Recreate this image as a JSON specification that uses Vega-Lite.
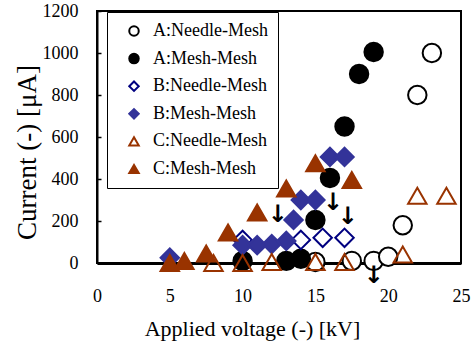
{
  "$schema": "https://vega.github.io/schema/vega-lite/v6.json",
  "width": 364,
  "height": 252,
  "autosize": {"type": "none"},
  "padding": {"left": 97, "top": 11, "right": 13, "bottom": 80},
  "background": "white",
  "config": {
    "view": {"stroke": "black", "strokeWidth": 2},
    "font": "Liberation Serif",
    "axis": {"labelFont": "Liberation Serif", "titleFont": "Liberation Serif", "labelColor": "black", "titleColor": "black", "titleFontWeight": "normal", "grid": false, "domainColor": "black", "tickColor": "black"}
  },
  "datasets": {
    "pts": [
      {"s": "A:Needle-Mesh", "v": 15, "i": 5},
      {"s": "A:Needle-Mesh", "v": 17.5, "i": 10},
      {"s": "A:Needle-Mesh", "v": 19, "i": 10},
      {"s": "A:Needle-Mesh", "v": 20, "i": 30},
      {"s": "A:Needle-Mesh", "v": 21, "i": 180},
      {"s": "A:Needle-Mesh", "v": 22, "i": 800},
      {"s": "A:Needle-Mesh", "v": 23, "i": 1000},
      {"s": "A:Mesh-Mesh", "v": 10, "i": 10},
      {"s": "A:Mesh-Mesh", "v": 13, "i": 10},
      {"s": "A:Mesh-Mesh", "v": 14, "i": 20},
      {"s": "A:Mesh-Mesh", "v": 15, "i": 205},
      {"s": "A:Mesh-Mesh", "v": 16, "i": 405},
      {"s": "A:Mesh-Mesh", "v": 17, "i": 650},
      {"s": "A:Mesh-Mesh", "v": 18, "i": 900},
      {"s": "A:Mesh-Mesh", "v": 19, "i": 1005},
      {"s": "B:Needle-Mesh", "v": 10, "i": 110},
      {"s": "B:Needle-Mesh", "v": 14, "i": 110},
      {"s": "B:Needle-Mesh", "v": 15.5, "i": 120},
      {"s": "B:Needle-Mesh", "v": 17, "i": 120},
      {"s": "B:Mesh-Mesh", "v": 5, "i": 25},
      {"s": "B:Mesh-Mesh", "v": 10, "i": 85},
      {"s": "B:Mesh-Mesh", "v": 11, "i": 85},
      {"s": "B:Mesh-Mesh", "v": 12, "i": 90},
      {"s": "B:Mesh-Mesh", "v": 13, "i": 105},
      {"s": "B:Mesh-Mesh", "v": 13.5, "i": 205},
      {"s": "B:Mesh-Mesh", "v": 14, "i": 300},
      {"s": "B:Mesh-Mesh", "v": 15, "i": 300},
      {"s": "B:Mesh-Mesh", "v": 16, "i": 505},
      {"s": "B:Mesh-Mesh", "v": 17, "i": 505},
      {"s": "C:Needle-Mesh", "v": 8, "i": 0},
      {"s": "C:Needle-Mesh", "v": 10, "i": 0},
      {"s": "C:Needle-Mesh", "v": 12, "i": 5},
      {"s": "C:Needle-Mesh", "v": 15, "i": 5},
      {"s": "C:Needle-Mesh", "v": 17, "i": 5},
      {"s": "C:Needle-Mesh", "v": 21, "i": 40},
      {"s": "C:Needle-Mesh", "v": 22, "i": 320},
      {"s": "C:Needle-Mesh", "v": 24, "i": 320},
      {"s": "C:Mesh-Mesh", "v": 5, "i": 0},
      {"s": "C:Mesh-Mesh", "v": 6, "i": 10},
      {"s": "C:Mesh-Mesh", "v": 7.5, "i": 45},
      {"s": "C:Mesh-Mesh", "v": 9, "i": 145},
      {"s": "C:Mesh-Mesh", "v": 11, "i": 240},
      {"s": "C:Mesh-Mesh", "v": 13, "i": 355},
      {"s": "C:Mesh-Mesh", "v": 15, "i": 475},
      {"s": "C:Mesh-Mesh", "v": 17.5, "i": 395}
    ],
    "arrows": [
      {"v": 12.4, "i": 230, "t": "↓"},
      {"v": 16.2, "i": 285, "t": "↓"},
      {"v": 17.2, "i": 220, "t": "↓"},
      {"v": 19.0, "i": -60, "t": "↓"}
    ]
  },
  "layer": [
    {
      "data": {"name": "pts"},
      "mark": {"type": "point", "filled": false, "strokeWidth": 2, "opacity": 1, "clip": false, "size": 340},
      "encoding": {
        "x": {"field": "v", "type": "quantitative", "scale": {"domain": [0, 25], "nice": false},
          "axis": {"values": [0, 5, 10, 15, 20, 25], "title": "Applied voltage (-) [kV]", "labelFontSize": 18, "titleFontSize": 22, "labelPadding": 24, "ticks": false, "domainWidth": 3, "titleX": 155, "titleY": 72, "titleBaseline": "alphabetic", "titleAnchor": null, "labelFlush": false}},
        "y": {"field": "i", "type": "quantitative", "scale": {"domain": [0, 1200], "nice": false},
          "axis": {"values": [0, 200, 400, 600, 800, 1000, 1200], "format": "d", "title": "Current (-) [μA]", "labelFontSize": 18, "titleFontSize": 27, "labelPadding": 23, "ticks": true, "tickSize": -4, "tickWidth": 1.5, "domainWidth": 2, "titleX": -70, "titleY": 141, "titleAngle": -90, "titleBaseline": "middle", "titleAlign": "center", "labelFlush": false}},
        "shape": {"field": "s", "type": "nominal", "scale": {"domain": ["A:Needle-Mesh", "A:Mesh-Mesh", "B:Needle-Mesh", "B:Mesh-Mesh", "C:Needle-Mesh", "C:Mesh-Mesh"], "range": ["circle", "circle", "diamond", "diamond", "triangle-up", "triangle-up"]},
          "legend": {"orient": "none", "legendX": 10, "legendY": 1, "title": " ", "titleOrient": "left", "titlePadding": 8, "titleFontSize": 10, "strokeColor": "black", "fillColor": "white", "padding": 10, "rowPadding": 9.6, "clipHeight": 18, "labelFont": "Liberation Serif", "labelFontSize": 18, "labelColor": "black", "symbolSize": 90, "symbolStrokeWidth": 2, "labelOffset": 10}},
        "fill": {"field": "s", "type": "nominal", "scale": {"domain": ["A:Needle-Mesh", "A:Mesh-Mesh", "B:Needle-Mesh", "B:Mesh-Mesh", "C:Needle-Mesh", "C:Mesh-Mesh"], "range": ["white", "black", "white", "#333399", "transparent", "#993300"]}},
        "stroke": {"field": "s", "type": "nominal", "scale": {"domain": ["A:Needle-Mesh", "A:Mesh-Mesh", "B:Needle-Mesh", "B:Mesh-Mesh", "C:Needle-Mesh", "C:Mesh-Mesh"], "range": ["black", "black", "#000080", "#333399", "#993300", "#993300"]}}
      }
    },
    {
      "data": {"name": "arrows"},
      "mark": {"type": "text", "fontSize": 24, "fontWeight": "bold", "font": "DejaVu Sans", "color": "black", "clip": false},
      "encoding": {
        "x": {"field": "v", "type": "quantitative"},
        "y": {"field": "i", "type": "quantitative"},
        "text": {"field": "t"}
      }
    }
  ]
}
